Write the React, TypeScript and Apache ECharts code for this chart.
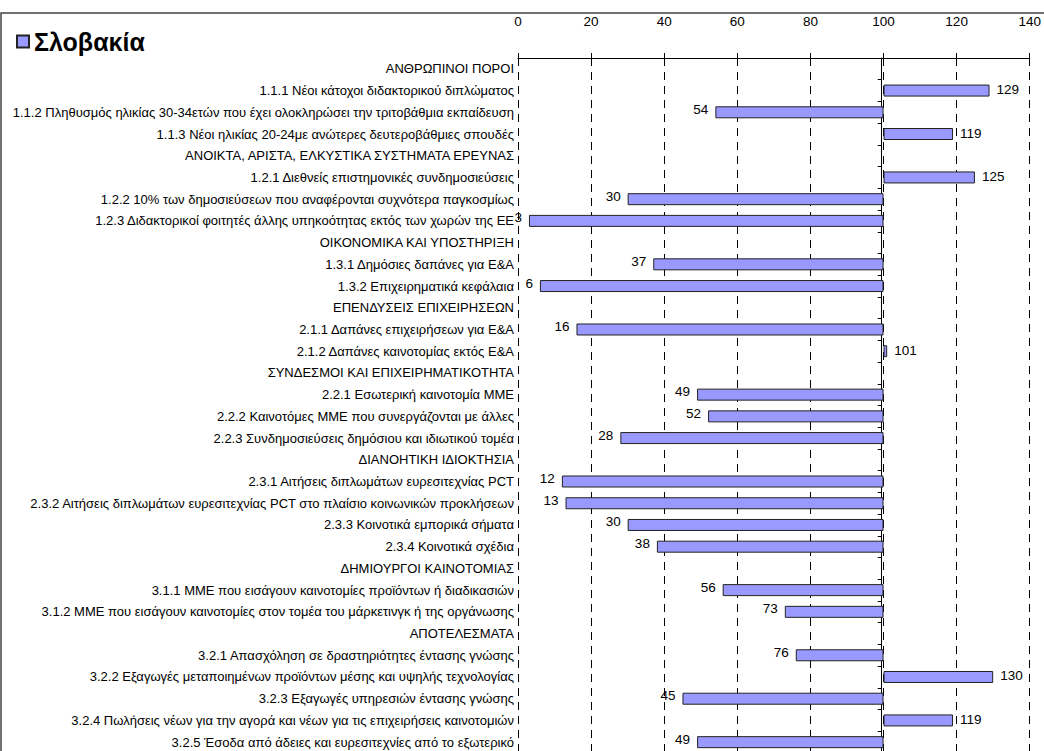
import React, { useEffect, useRef } from "react";
import * as echarts from "echarts";

const seriesName = "Σλοβακία";

const categories: string[] = [
  "ΑΝΘΡΩΠΙΝΟΙ ΠΟΡΟΙ",
  "1.1.1 Νέοι κάτοχοι διδακτορικού διπλώματος",
  "1.1.2 Πληθυσμός ηλικίας 30-34ετών που έχει ολοκληρώσει την τριτοβάθμια εκπαίδευση",
  "1.1.3 Νέοι ηλικίας 20-24με ανώτερες δευτεροβάθμιες σπουδές",
  "ΑΝΟΙΚΤΑ, ΑΡΙΣΤΑ, ΕΛΚΥΣΤΙΚΑ ΣΥΣΤΗΜΑΤΑ ΕΡΕΥΝΑΣ",
  "1.2.1 Διεθνείς επιστημονικές συνδημοσιεύσεις",
  "1.2.2 10% των δημοσιεύσεων που αναφέρονται συχνότερα παγκοσμίως",
  "1.2.3 Διδακτορικοί φοιτητές άλλης υπηκοότητας εκτός των χωρών της ΕΕ",
  "ΟΙΚΟΝΟΜΙΚΑ ΚΑΙ ΥΠΟΣΤΗΡΙΞΗ",
  "1.3.1 Δημόσιες δαπάνες για Ε&Α",
  "1.3.2 Επιχειρηματικά κεφάλαια",
  "ΕΠΕΝΔΥΣΕΙΣ ΕΠΙΧΕΙΡΗΣΕΩΝ",
  "2.1.1 Δαπάνες επιχειρήσεων για Ε&Α",
  "2.1.2 Δαπάνες καινοτομίας εκτός Ε&Α",
  "ΣΥΝΔΕΣΜΟΙ ΚΑΙ ΕΠΙΧΕΙΡΗΜΑΤΙΚΟΤΗΤΑ",
  "2.2.1 Εσωτερική καινοτομία ΜΜΕ",
  "2.2.2 Καινοτόμες ΜΜΕ που συνεργάζονται με άλλες",
  "2.2.3 Συνδημοσιεύσεις δημόσιου και ιδιωτικού τομέα",
  "ΔΙΑΝΟΗΤΙΚΗ ΙΔΙΟΚΤΗΣΙΑ",
  "2.3.1 Αιτήσεις διπλωμάτων ευρεσιτεχνίας PCT",
  "2.3.2 Αιτήσεις διπλωμάτων ευρεσιτεχνίας PCT στο πλαίσιο κοινωνικών προκλήσεων",
  "2.3.3 Κοινοτικά εμπορικά σήματα",
  "2.3.4 Κοινοτικά σχέδια",
  "ΔΗΜΙΟΥΡΓΟΙ ΚΑΙΝΟΤΟΜΙΑΣ",
  "3.1.1 ΜΜΕ που εισάγουν καινοτομίες προϊόντων ή διαδικασιών",
  "3.1.2 ΜΜΕ που εισάγουν καινοτομίες στον τομέα του μάρκετινγκ ή της οργάνωσης",
  "ΑΠΟΤΕΛΕΣΜΑΤΑ",
  "3.2.1 Απασχόληση σε δραστηριότητες έντασης γνώσης",
  "3.2.2 Εξαγωγές μεταποιημένων προϊόντων μέσης και υψηλής τεχνολογίας",
  "3.2.3 Εξαγωγές υπηρεσιών έντασης γνώσης",
  "3.2.4 Πωλήσεις νέων για την αγορά και νέων για τις επιχειρήσεις καινοτομιών",
  "3.2.5 Έσοδα από άδειες και ευρεσιτεχνίες από το εξωτερικό",
];

// null = section header row (no bar)
const values: (number | null)[] = [
  null, 129, 54, 119,
  null, 125, 30, 3,
  null, 37, 6,
  null, 16, 101,
  null, 49, 52, 28,
  null, 12, 13, 30, 38,
  null, 56, 73,
  null, 76, 130, 45, 119, 49,
];

const baseline = 100;
const axisTicks = { min: 0, max: 140, interval: 20 };

const FONT = "'Liberation Sans', Arial, sans-serif";

export default function App() {
  const ref = useRef<HTMLDivElement>(null);

  useEffect(() => {
    if (!ref.current) return;
    const chart = echarts.init(ref.current, null, { renderer: "svg" });

    const baseData = values.map((v) => (v == null ? "-" : Math.min(v, baseline)));
    const segData = values.map((v) => {
      if (v == null) return "-";
      const above = v >= baseline;
      return {
        value: Math.abs(v - baseline),
        label: {
          position: above ? "right" : "left",
          offset: above ? [0, -1] : [0, -3],
        },
      };
    });

    const gridLeft = 518;
    const gridWidth = 518;
    const offset100 = -gridWidth * (axisTicks.max - baseline) / (axisTicks.max - axisTicks.min);

    chart.setOption({
      animation: false,
      backgroundColor: "#ffffff",
      textStyle: { fontFamily: FONT },
      graphic: [
        {
          type: "rect",
          silent: true,
          shape: { x: 1, y: 13, width: 1200, height: 900 },
          style: { fill: "none", stroke: "#444", lineWidth: 1.5 },
          z: -1,
        },
      ],
      legend: {
        data: [seriesName],
        left: 11,
        top: 24,
        icon: "rect",
        itemWidth: 12,
        itemHeight: 12,
        itemGap: 4,
        textStyle: { fontSize: 25, fontWeight: "bold", color: "#000", fontFamily: FONT },
        selectedMode: false,
      },
      grid: { left: gridLeft, top: 58, width: gridWidth, height: 695, containLabel: false },
      xAxis: {
        type: "value",
        position: "top",
        min: axisTicks.min,
        max: axisTicks.max,
        interval: axisTicks.interval,
        axisLine: { show: true, lineStyle: { color: "#000", width: 1 } },
        axisTick: { show: true, length: 5, lineStyle: { color: "#000" } },
        axisLabel: { margin: 30, fontSize: 13.5, color: "#000", fontFamily: FONT },
        splitLine: { show: true, lineStyle: { color: "#000", type: [8, 6], width: 1 } },
      },
      yAxis: [
        {
          type: "category",
          data: categories,
          inverse: true,
          position: "left",
          axisLine: { show: false },
          axisTick: { show: false },
          axisLabel: { margin: 4, fontSize: 13, color: "#000", fontFamily: FONT, interval: 0 },
        },
        {
          type: "category",
          data: categories,
          inverse: true,
          position: "right",
          offset: offset100,
          axisLine: { show: true, onZero: false, lineStyle: { color: "#000", width: 1 } },
          axisTick: { show: true, inside: true, length: 4, lineStyle: { color: "#000" } },
          axisLabel: { show: false },
        },
      ],
      series: [
        {
          name: "base",
          type: "bar",
          stack: "s",
          barWidth: 12,
          data: baseData,
          itemStyle: { color: "transparent", borderWidth: 0 },
          silent: true,
        },
        {
          name: seriesName,
          type: "bar",
          stack: "s",
          barWidth: 12,
          data: segData,
          itemStyle: { color: "#9999ff", borderColor: "#222", borderWidth: 1 },
          label: {
            show: true,
            distance: 7,
            fontSize: 13.5,
            color: "#000",
            fontFamily: FONT,
            formatter: (p: any) => String(values[p.dataIndex]),
          },
        },
      ],
    });

    return () => chart.dispose();
  }, []);

  return (
    <div
      style={{ position: "absolute", left: 0, top: 0, width: 1044, height: 751, overflow: "hidden" }}
    >
      <div ref={ref} style={{ width: 1044, height: 790 }} />
    </div>
  );
}
